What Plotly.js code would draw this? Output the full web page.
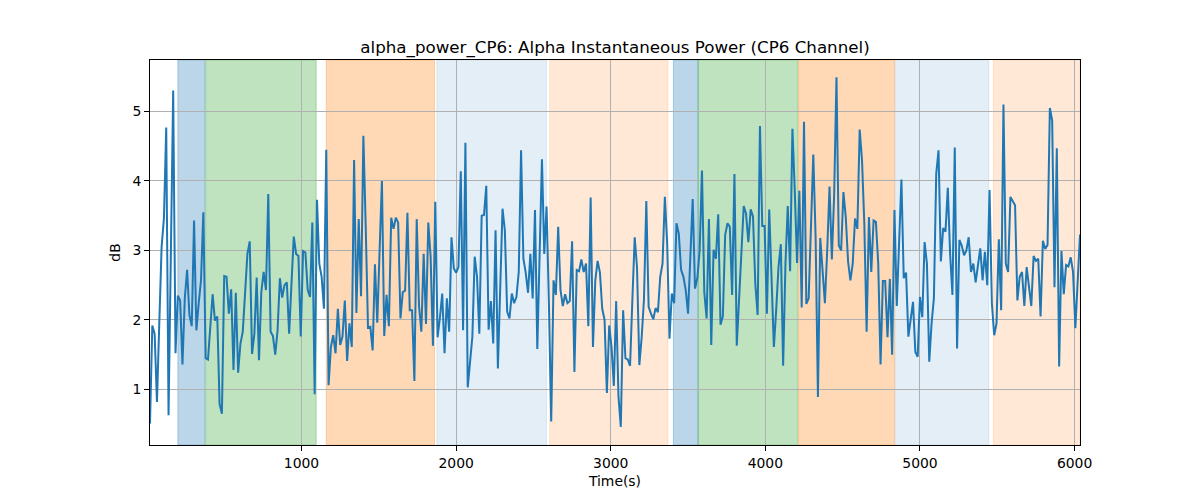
<!DOCTYPE html>
<html>
<head>
<meta charset="utf-8">
<script src="https://cdn.plot.ly/plotly-3.0.1.min.js"></script>
<style>
  html, body { margin: 0; padding: 0; background: #fff; }
  #chart { width: 1200px; height: 500px; }
</style>
</head>
<body>
<div id="chart"></div>
<script>
// sampling of the alpha power series (seconds)
var t0 = 20;
var dt = 15;

// alpha instantaneous power, CP6 channel (dB), one value per sample
var alphaPowerDb = [
  0.51, 1.92, 1.80, 0.82, 1.95, 3.05, 3.46, 4.77, 0.63, 3.00,
  5.30, 1.52, 2.35, 2.28, 1.36, 2.31, 2.72, 2.07, 1.91, 3.43,
  1.85, 2.24, 2.57, 3.55, 1.45, 1.43, 1.90, 2.37, 1.99, 2.05,
  0.79, 0.65, 2.63, 2.62, 2.09, 2.44, 1.28, 2.39, 1.24, 1.66,
  1.83, 2.43, 2.95, 3.13, 1.51, 1.80, 2.61, 1.42, 2.40, 2.69,
  2.43, 3.81, 1.83, 1.77, 1.50, 1.85, 2.60, 2.32, 2.50, 2.54,
  1.80, 2.52, 3.20, 2.95, 2.92, 1.76, 2.99, 2.97, 2.43, 2.33,
  // 1070 s
  3.40, 0.93, 3.73, 2.81, 2.62, 2.16, 4.45, 1.06, 1.61, 1.78,
  1.52, 2.16, 1.64, 1.76, 2.28, 1.41, 1.95, 1.61, 4.30, 2.10,
  3.45, 2.34, 4.65, 3.36, 1.89, 1.90, 1.56, 2.80, 1.96, 3.00,
  4.00, 1.77, 2.36, 1.91, 3.47, 3.31, 3.47, 3.40, 2.02, 2.40,
  2.42, 3.54, 2.14, 2.14, 1.12, 3.45, 2.20, 1.83, 2.95, 1.94,
  3.40, 2.91, 1.63, 3.70, 1.75, 2.03, 2.38, 1.52, 2.31, 1.83,
  3.19, 2.74, 2.68, 2.76, 4.14,
  // 2045 s
  1.85, 4.55, 1.03, 1.35, 1.76, 2.91, 2.62, 1.80, 3.50, 3.51,
  3.93, 1.86, 2.27, 1.66, 3.29, 1.30, 2.50, 3.60, 3.29, 2.12,
  2.02, 2.38, 2.24, 2.33, 2.69, 4.44, 2.88, 2.68, 2.39, 2.95,
  2.31, 3.58, 1.58, 3.19, 4.31, 2.95, 3.63, 2.24, 0.54, 2.57,
  2.36, 3.34, 2.43, 2.20, 2.37, 2.24, 2.27, 3.13, 1.25, 2.72,
  2.70, 2.87, 2.69, 2.81, 1.91, 3.76, 1.61, 2.57, 2.85, 2.68,
  2.16, 2.00, 0.95, 1.92, 1.61, 1.05, 2.27, 0.90,
  // 3065 s
  0.46, 2.14, 1.45, 1.43, 1.34, 2.30, 3.19, 2.75, 1.35, 1.75,
  2.30, 3.71, 2.19, 2.09, 2.01, 2.17, 2.11, 2.62, 2.81, 3.77,
  3.10, 1.73, 2.38, 2.24, 3.39, 3.24, 2.72, 2.62, 2.43, 2.09,
  3.00, 3.74, 2.45, 2.60, 3.00, 4.15, 2.40, 2.02, 3.45, 1.64,
  3.01, 2.88, 3.52, 1.93, 2.05, 3.22, 3.39, 3.34, 2.36, 4.10,
  1.63, 2.30, 3.00, 3.64, 3.53, 3.12, 3.59, 3.49, 2.52, 2.07,
  4.79, 3.35, 3.35, 2.09, 3.59, 2.50, 1.61,
  // 4070 s
  2.14, 2.76, 3.09, 1.34, 2.81, 3.64, 2.70, 4.75, 3.87, 2.82,
  3.86, 2.18, 4.85, 2.23, 2.31, 3.34, 4.38, 3.19, 0.89, 3.18,
  2.72, 2.24, 3.00, 3.92, 2.87, 3.80, 5.49, 3.07, 3.00, 3.84,
  3.48, 2.84, 2.57, 2.81, 3.46, 3.31, 4.74, 4.30, 3.39, 1.83,
  3.48, 2.69, 3.43, 3.41, 2.81, 1.36, 2.56, 2.56, 1.75, 2.59,
  1.50, 3.58, 2.20, 3.05, 4.02, 2.60, 2.68, 1.76, 2.04, 2.26,
  1.54, 1.47, 2.33, 2.04, 3.12, 2.81, 1.40,
  // 5075 s
  1.95, 2.31, 4.10, 4.44, 2.84, 3.32, 3.27, 3.90, 2.95, 2.36,
  4.48, 1.59, 3.15, 3.07, 2.93, 3.00, 3.19, 2.69, 2.81, 2.54,
  2.81, 3.03, 2.57, 2.98, 2.50, 3.87, 2.24, 1.78, 1.95, 3.16,
  2.14, 5.10, 2.81, 2.69, 3.77, 3.70, 3.65, 2.28, 2.62, 2.69,
  2.20, 2.76, 2.50, 2.20, 2.92, 2.85, 2.88, 2.05, 3.14, 3.02,
  3.08, 5.05, 4.87, 2.47, 4.47, 1.33, 2.99, 2.37, 2.79, 2.77,
  2.90, 2.69, 1.88, 2.60, 3.23
];

// task phases shaded behind the trace
var phaseStart = [200, 380, 1160, 1875, 2605, 3405, 3565, 4215, 4840, 5475];
var phaseEnd   = [375, 1095, 1860, 2585, 3370, 3565, 4210, 4835, 5445, 6035];
var phaseKind  = [0, 1, 2, 3, 4, 0, 1, 2, 3, 4];

// fill per phase kind (matplotlib tab colours with alpha)
var kindFill = [
  'rgba(31,119,180,0.3)',
  'rgba(44,160,44,0.3)',
  'rgba(255,127,14,0.3)',
  'rgba(31,119,180,0.12)',
  'rgba(255,127,14,0.17)'
];

var times = alphaPowerDb.map((v, i) => t0 + i * dt);

var shapes = phaseStart.map((s, i) => ({
  type: 'rect',
  xref: 'x', yref: 'paper',
  x0: s, x1: phaseEnd[i],
  y0: 0, y1: 1,
  fillcolor: kindFill[phaseKind[i]],
  line: {color: kindFill[phaseKind[i]], width: 1},
  layer: 'below'
}));

var trace = {
  x: times,
  y: alphaPowerDb,
  type: 'scatter',
  mode: 'lines',
  line: {color: '#1f77b4', width: 2},
  hoverinfo: 'x+y'
};

var axisCommon = {
  showline: true,
  linecolor: '#000',
  linewidth: 1,
  mirror: true,
  ticks: 'outside',
  ticklen: 5,
  tickwidth: 1,
  tickcolor: '#000',
  showgrid: true,
  gridcolor: '#b0b0b0',
  gridwidth: 1,
  zeroline: false,
  tickfont: {family: 'DejaVu Sans', size: 13.9, color: '#000'}
};

var layout = {
  width: 1200,
  height: 500,
  margin: {l: 150, r: 120, t: 60, b: 55},
  paper_bgcolor: '#fff',
  plot_bgcolor: '#fff',
  showlegend: false,
  font: {family: 'DejaVu Sans', color: '#000'},
  title: {
    text: 'alpha_power_CP6: Alpha Instantaneous Power (CP6 Channel)',
    font: {family: 'DejaVu Sans', size: 16.7, color: '#000'},
    x: 0.5, xref: 'paper', xanchor: 'center',
    y: 1, yref: 'paper', yanchor: 'bottom',
    pad: {b: 7}
  },
  xaxis: Object.assign({}, axisCommon, {
    range: [20, 6035],
    tickvals: [1000, 2000, 3000, 4000, 5000, 6000],
    title: {text: 'Time(s)', font: {family: 'DejaVu Sans', size: 13.9, color: '#000'}, standoff: 6}
  }),
  yaxis: Object.assign({}, axisCommon, {
    range: [0.2, 5.74],
    tickvals: [1, 2, 3, 4, 5],
    title: {text: 'dB', font: {family: 'DejaVu Sans', size: 13.9, color: '#000'}, standoff: 8}
  }),
  shapes: shapes
};

Plotly.newPlot('chart', [trace], layout, {displayModeBar: false, staticPlot: true});
</script>
</body>
</html>
